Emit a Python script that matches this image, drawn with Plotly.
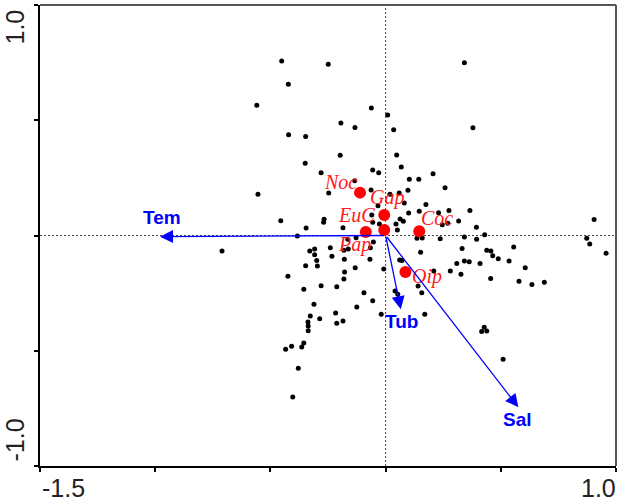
import plotly.graph_objects as go

# Site scores (axis 1, axis 2)
site_x = [-0.451, -0.249, -0.422, -0.559, -0.062, 0.009, -0.194, -0.133, 0.035, -0.421,
          -0.347, -0.197, 0.048, -0.349, 0.068, -0.056, 0.342, 0.379, -0.030, 0.103,
          0.144, 0.206, 0.258, 0.097, 0.059, 0.019, -0.063, 0.081, 0.175, -0.033,
          0.100, 0.146, 0.230, 0.275, 0.366, -0.060, 0.063, 0.077, 0.045, 0.246,
          0.270, 0.317, 0.394, -0.056, -0.027, 0.051, 0.430, 0.342, 0.136, 0.159,
          0.237, 0.395, -0.053, -0.066, 0.332, 0.152, 0.439, 0.457, 0.465, 0.556,
          0.489, 0.536, 0.342, 0.363, 0.309, 0.410, -0.068, 0.061, 0.071, 0.606,
          -0.008, 0.281, 0.209, 0.327, 0.456, 0.579, 0.635, 0.689, 0.141, 0.041,
          0.053, 0.157, -0.056, -0.019, 0.170, 0.428, 0.417, 0.439, 0.510, 0.873,
          0.886, 0.905, 0.957, -0.280, -0.134, -0.554, -0.247, -0.455, -0.267, -0.269,
          -0.345, -0.185, -0.383, -0.710, -0.128, -0.164, -0.308, -0.329, -0.240, -0.308,
          -0.181, -0.162, -0.233, -0.179, -0.299, -0.347, -0.296, -0.132, -0.178, -0.424,
          -0.181, -0.212, -0.280, -0.355, -0.094, -0.311, -0.125, -0.327, -0.286, -0.217,
          -0.212, -0.185, -0.337, -0.336, -0.336, -0.355, -0.364, -0.408, -0.434, -0.379,
          -0.403]
site_y = [0.757, 0.743, 0.656, 0.565, 0.553, 0.523, 0.488, 0.469, 0.459, 0.437,
          0.429, 0.348, 0.349, 0.313, 0.297, 0.284, 0.750, 0.468, 0.272, 0.244,
          0.244, 0.268, 0.207, 0.196, 0.184, 0.179, 0.197, 0.141, 0.134, 0.129,
          0.098, 0.105, 0.099, 0.108, 0.108, 0.089, 0.072, 0.062, 0.050, 0.047,
          0.053, 0.063, 0.036, 0.057, 0.050, 0.024, 0.003, -0.007, -0.012, -0.011,
          -0.014, -0.016, -0.028, -0.053, -0.056, -0.073, -0.064, -0.067, -0.088, -0.050,
          -0.101, -0.111, -0.111, -0.114, -0.121, -0.122, -0.103, -0.106, -0.109, -0.140,
          -0.145, -0.154, -0.154, -0.168, -0.187, -0.199, -0.213, -0.203, -0.219, -0.241,
          -0.255, -0.248, -0.283, -0.342, -0.342, -0.398, -0.416, -0.414, -0.537, -0.012,
          -0.037, 0.069, -0.077, 0.272, 0.238, 0.179, 0.184, 0.064, 0.070, 0.057,
          0.033, 0.034, -0.002, -0.067, -0.010, -0.016, -0.059, -0.067, -0.053, -0.083,
          -0.064, -0.059, -0.090, -0.103, -0.109, -0.131, -0.132, -0.140, -0.158, -0.177,
          -0.189, -0.222, -0.218, -0.233, -0.248, -0.298, -0.310, -0.349, -0.361, -0.336,
          -0.381, -0.371, -0.375, -0.393, -0.413, -0.466, -0.484, -0.481, -0.494, -0.576,
          -0.701]

# Species scores
species = ["Noc", "Gap", "EuC", "Pap", "Coc", "Oip"]
species_x = [-0.111, -0.006, -0.006, -0.086, 0.146, 0.086]
species_y = [0.186, 0.089, 0.024, 0.015, 0.018, -0.158]
species_label_x = [-0.196, 0.004, -0.128, -0.136, 0.222, 0.178]
species_label_y = [0.233, 0.163, 0.089, -0.039, 0.075, -0.176]

# Environmental variables (biplot arrows)
env = ["Tem", "Tub", "Sal"]
env_x = [-0.979, 0.066, 0.576]
env_y = [-0.005, -0.320, -0.745]
env_label_x = [-0.972, 0.070, 0.572]
env_label_y = [0.080, -0.375, -0.800]

x_range = [-1.5, 1.0]
y_range = [-1.0, 1.0]
x_ticks = [-1.5, -1.0, -0.5, 0.0, 0.5, 1.0]
y_ticks = [-1.0, -0.5, 0.0, 0.5, 1.0]

fig = go.Figure()

# dotted origin lines
fig.add_shape(type="line", x0=0, x1=0, y0=y_range[0], y1=y_range[1],
              line=dict(color="#444444", width=1, dash="2px,2px"), layer="below")
fig.add_shape(type="line", x0=x_range[0], x1=x_range[1], y0=0, y1=0,
              line=dict(color="#444444", width=1, dash="2px,2px"), layer="below")

fig.add_trace(go.Scatter(x=site_x, y=site_y, mode="markers",
                         marker=dict(color="black", size=5), hoverinfo="skip"))
fig.add_trace(go.Scatter(x=species_x, y=species_y, mode="markers",
                         marker=dict(color="#ff0000", size=12), hoverinfo="skip"))

annotations = []
for name, lx, ly in zip(species, species_label_x, species_label_y):
    annotations.append(dict(x=lx, y=ly, xref="x", yref="y", text="<i>" + name + "</i>",
                            showarrow=False,
                            font=dict(family="Liberation Serif", size=20, color="#ff1a1a")))

for name, ex, ey, lx, ly in zip(env, env_x, env_y, env_label_x, env_label_y):
    annotations.append(dict(x=ex, y=ey, xref="x", yref="y", ax=0, ay=0, axref="x", ayref="y",
                            text="", showarrow=True, arrowhead=2, arrowsize=2.0,
                            arrowwidth=1.3, arrowcolor="#0000ff"))
    annotations.append(dict(x=lx, y=ly, xref="x", yref="y", text="<b>" + name + "</b>",
                            showarrow=False,
                            font=dict(family="Liberation Sans", size=19, color="#0000ff")))

# axis tick labels (only ends labelled)
tick_font = dict(family="Liberation Sans", size=25, color="#222222")
annotations += [
    dict(x=x_range[0], y=0, xref="x", yref="paper", text=f"{x_range[0]:.1f}", showarrow=False,
         xanchor="left", yanchor="top", yshift=-6, font=tick_font),
    dict(x=x_range[1], y=0, xref="x", yref="paper", text=f"{x_range[1]:.1f}", showarrow=False,
         xanchor="right", yanchor="top", yshift=-6, xshift=2, font=tick_font),
    dict(x=0, y=y_range[1], xref="paper", yref="y", text=f"{y_range[1]:.1f}", showarrow=False,
         textangle=-90, xanchor="right", yanchor="top", xshift=-10, yshift=-3, font=tick_font),
    dict(x=0, y=y_range[0], xref="paper", yref="y", text=f"{y_range[0]:.1f}", showarrow=False,
         textangle=-90, xanchor="right", yanchor="bottom", xshift=-10, yshift=2, font=tick_font),
]

# top / right frame in grey
fig.add_shape(type="line", xref="paper", yref="paper", x0=0, x1=1, y0=1, y1=1,
              line=dict(color="#555555", width=2))
fig.add_shape(type="line", xref="paper", yref="paper", x0=1, x1=1, y0=0, y1=1,
              line=dict(color="#555555", width=2))

fig.update_layout(
    width=619, height=502,
    margin=dict(l=40, r=3, t=5, b=36, autoexpand=False),
    paper_bgcolor="white", plot_bgcolor="white",
    showlegend=False,
    annotations=annotations,
    xaxis=dict(range=x_range, tickvals=x_ticks, showticklabels=False, ticks="outside",
               ticklen=4, tickwidth=1.5, tickcolor="black", showline=True, linecolor="black",
               linewidth=2, showgrid=False, zeroline=False, automargin=False),
    yaxis=dict(range=y_range, tickvals=y_ticks, showticklabels=False, ticks="outside",
               ticklen=4, tickwidth=1.5, tickcolor="black", showline=True, linecolor="black",
               linewidth=2, showgrid=False, zeroline=False, automargin=False),
)

fig.write_html(
    "out.html",
    config={"responsive": False, "displayModeBar": False},
    post_script="document.body.style.margin='0';document.body.style.overflow='hidden';",
)
